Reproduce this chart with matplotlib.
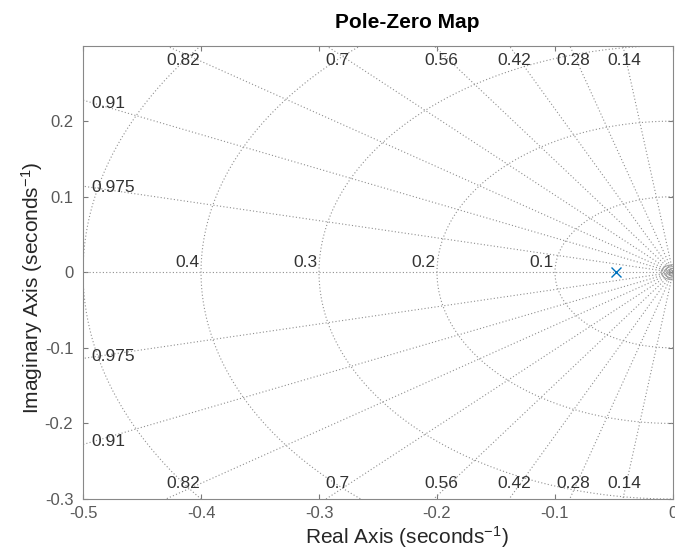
import numpy as np
import matplotlib
matplotlib.use('Agg')
import matplotlib.pyplot as plt

plt.rcParams['font.family'] = ['Liberation Sans', 'DejaVu Sans']
plt.rcParams['mathtext.fontset'] = 'custom'
plt.rcParams['mathtext.rm'] = 'Liberation Sans'
plt.rcParams['mathtext.default'] = 'regular'
plt.rcParams['axes.unicode_minus'] = False

# System pole (real), and the sgrid values
pole_re = [-0.0485]
pole_im = [0.0]
zeta_top = [0.14, 0.28, 0.42, 0.56, 0.7, 0.82]
zeta_side = [0.91, 0.975]
wn_labeled = [0.1, 0.2, 0.3, 0.4]
wn_extra = [0.5]
wn_small = [0.0025, 0.005, 0.0075, 0.01]

xticks = [-0.5, -0.4, -0.3, -0.2, -0.1, 0]
xticklabels = ['-0.5', '-0.4', '-0.3', '-0.2', '-0.1', '0']
yticks = [-0.3, -0.2, -0.1, 0, 0.1, 0.2]
yticklabels = ['-0.3', '-0.2', '-0.1', '0', '0.1', '0.2']
xlim = (-0.5, 0)
ylim = (-0.3, 0.3)

grid_col = '#8f8f8f'
grid_ls = (0, (1, 2))
text_col = '#333333'

fig = plt.figure(figsize=(6.75, 5.53), dpi=100)
ax = fig.add_axes([0.123, 0.0976, 0.874, 0.820])

# damping rays
for z in zeta_top + zeta_side:
    th = np.arccos(z)
    r = np.array([0, 0.7])
    for s in (1, -1):
        ax.plot(-r * np.cos(th), s * r * np.sin(th), color=grid_col, ls=grid_ls, lw=0.8)
ax.plot([-0.7, 0], [0, 0], color=grid_col, ls=grid_ls, lw=0.8)

# natural frequency arcs
phi = np.linspace(np.pi / 2, 3 * np.pi / 2, 400)
for w in wn_labeled + wn_extra:
    ax.plot(w * np.cos(phi), w * np.sin(phi), color=grid_col, ls=grid_ls, lw=0.8)
for w in wn_small:
    ax.plot(w * np.cos(phi), w * np.sin(phi), color='#9a9a9a', lw=0.7)

# damping labels
for z in zeta_top:
    th = np.arccos(z)
    yl = ylim[1] - 0.01
    xl = -yl / np.tan(th)
    ax.text(xl, yl, f'{z:g}', ha='center', va='top', fontsize=12.5, color=text_col)
    ax.text(xl, -yl, f'{z:g}', ha='center', va='bottom', fontsize=12.5, color=text_col)
for z in zeta_side:
    th = np.arccos(z)
    yl = 0.49 * np.tan(th)
    ax.text(-0.4925, yl, f'{z:g}', ha='left', va='center', fontsize=12.5, color=text_col)
    ax.text(-0.4925, -yl, f'{z:g}', ha='left', va='center', fontsize=12.5, color=text_col)

# frequency labels
for w in wn_labeled:
    ax.annotate(f'{w:g}', (-w, 0), xytext=(-1, 3.6), textcoords='offset points',
                ha='right', va='baseline', fontsize=12.5, color=text_col)

ax.plot(pole_re, pole_im, 'x', color='#0072BD', ms=7.5, mew=1.0)

ax.set_xlim(*xlim)
ax.set_ylim(*ylim)
ax.set_xticks(xticks)
ax.set_xticklabels(xticklabels)
ax.set_yticks(yticks)
ax.set_yticklabels(yticklabels)
ax.tick_params(direction='in', top=True, right=True, length=3.6, width=0.8,
               color='#7a7a7a', labelcolor='#595959', labelsize=12)
ax.tick_params(axis='x', pad=5)
ax.tick_params(axis='y', pad=7)
for sp in ax.spines.values():
    sp.set_color('#888888')
    sp.set_linewidth(0.8)

ax.set_title('Pole-Zero Map', fontsize=15, fontweight='bold', x=0.549, pad=13)
ax.set_xlabel('Real Axis (seconds$^{-1}$)', fontsize=15, color='#262626')
ax.set_ylabel('Imaginary Axis (seconds$^{-1}$)', fontsize=15, color='#262626')
ax.xaxis.set_label_coords(0.549, -0.084)
ax.xaxis.label.set_va('center')
ax.yaxis.set_label_coords(-0.0864, 0.465)
ax.yaxis.label.set_va('center')

fig.savefig('out.png', dpi=100)
